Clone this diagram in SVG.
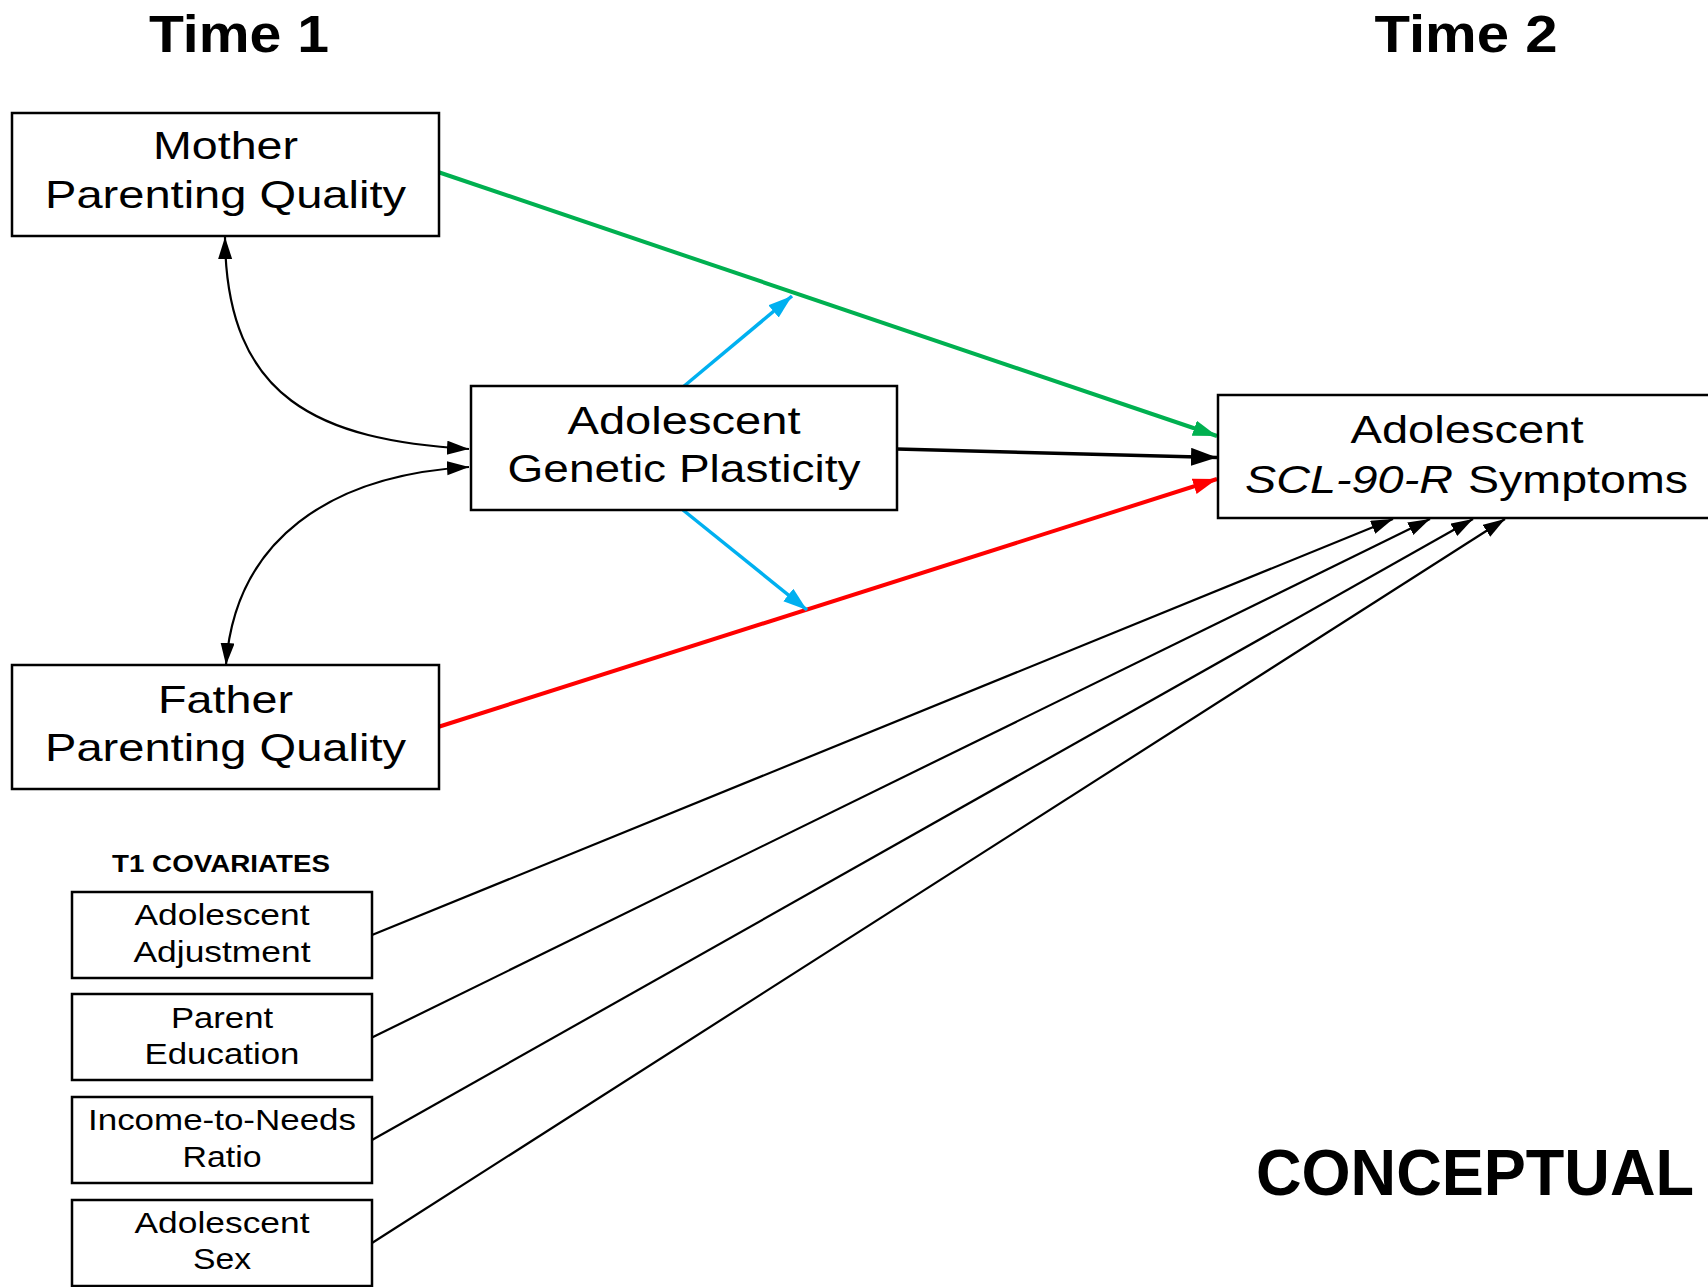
<svg xmlns="http://www.w3.org/2000/svg" width="1708" height="1287" viewBox="0 0 1708 1287">
<style>
  .box { fill: #ffffff; stroke: #000000; stroke-width: 2.5; }
  .t { font-family: "Liberation Sans", Arial, sans-serif; fill: #000000; text-anchor: middle; }
  .big { font-size: 39px; }
  .small { font-size: 30px; }
  .hdr { font-weight: bold; font-size: 51px; }
  .ln { fill: none; }
</style>
<defs>
  <marker id="aK" markerUnits="userSpaceOnUse" markerWidth="24" markerHeight="16" refX="22" refY="7" orient="auto-start-reverse"><path d="M0,0 L22,7 L0,14 z" fill="#000"/></marker>
  <marker id="aG" markerUnits="userSpaceOnUse" markerWidth="26" markerHeight="18" refX="24" refY="8" orient="auto"><path d="M0,0 L24,8 L0,16 z" fill="#00b050"/></marker>
  <marker id="aR" markerUnits="userSpaceOnUse" markerWidth="26" markerHeight="18" refX="24" refY="8" orient="auto"><path d="M0,0 L24,8 L0,16 z" fill="#ff0000"/></marker>
  <marker id="aB" markerUnits="userSpaceOnUse" markerWidth="26" markerHeight="18" refX="24" refY="8" orient="auto"><path d="M0,0 L24,8 L0,16 z" fill="#00b0f0"/></marker>
  <marker id="aKb" markerUnits="userSpaceOnUse" markerWidth="28" markerHeight="20" refX="26" refY="9" orient="auto"><path d="M0,0 L26,9 L0,18 z" fill="#000"/></marker>
</defs>

<text class="t hdr" x="239" y="52" textLength="180" lengthAdjust="spacingAndGlyphs">Time 1</text>
<text class="t hdr" x="1466" y="52" textLength="183" lengthAdjust="spacingAndGlyphs">Time 2</text>

<g id="connectors">
  <path class="ln" d="M438,172 L1217,436" stroke="#00b050" stroke-width="4" marker-end="url(#aG)"/>
  <path class="ln" d="M897,449 L1217,457.5" stroke="#000" stroke-width="3.5" marker-end="url(#aKb)"/>
  <path class="ln" d="M438,727 L1217,479" stroke="#ff0000" stroke-width="4" marker-end="url(#aR)"/>
  <path class="ln" d="M683,387 L792,296" stroke="#00b0f0" stroke-width="3.5" marker-end="url(#aB)"/>
  <path class="ln" d="M683,510 L807,610" stroke="#00b0f0" stroke-width="3.5" marker-end="url(#aB)"/>
  <path class="ln" d="M225,237 C226,400 320,440 469,449" stroke="#000" stroke-width="2.2" marker-start="url(#aK)" marker-end="url(#aK)"/>
  <path class="ln" d="M469,467 C330,475 235,540 226,665" stroke="#000" stroke-width="2.2" marker-start="url(#aK)" marker-end="url(#aK)"/>
  <path class="ln" d="M372,935 L1393,519" stroke="#000" stroke-width="2.2" marker-end="url(#aK)"/>
  <path class="ln" d="M372,1037.5 L1430,519" stroke="#000" stroke-width="2.2" marker-end="url(#aK)"/>
  <path class="ln" d="M372,1140 L1473,519" stroke="#000" stroke-width="2.2" marker-end="url(#aK)"/>
  <path class="ln" d="M372,1243 L1505,519" stroke="#000" stroke-width="2.2" marker-end="url(#aK)"/>
</g>

<g id="mother">
  <rect class="box" x="12" y="113" width="427" height="123"/>
  <text class="t big" x="225.5" y="159" textLength="145" lengthAdjust="spacingAndGlyphs">Mother</text>
  <text class="t big" x="225.5" y="208" textLength="361" lengthAdjust="spacingAndGlyphs">Parenting Quality</text>
</g>

<g id="father">
  <rect class="box" x="12" y="665" width="427" height="124"/>
  <text class="t big" x="225.5" y="713" textLength="135" lengthAdjust="spacingAndGlyphs">Father</text>
  <text class="t big" x="225.5" y="761" textLength="361" lengthAdjust="spacingAndGlyphs">Parenting Quality</text>
</g>

<g id="genetic">
  <rect class="box" x="471" y="386" width="426" height="124"/>
  <text class="t big" x="684" y="434" textLength="233" lengthAdjust="spacingAndGlyphs">Adolescent</text>
  <text class="t big" x="684" y="482" textLength="353" lengthAdjust="spacingAndGlyphs">Genetic Plasticity</text>
</g>

<g id="symptoms">
  <rect class="box" x="1218" y="395" width="500" height="123"/>
  <text class="t big" x="1467" y="443" textLength="233" lengthAdjust="spacingAndGlyphs">Adolescent</text>
  <text class="t big" x="1245" y="493" style="text-anchor:start;font-style:italic" textLength="208" lengthAdjust="spacingAndGlyphs">SCL-90-R</text>
  <text class="t big" x="1468" y="493" style="text-anchor:start" textLength="220" lengthAdjust="spacingAndGlyphs">Symptoms</text>
</g>

<text class="t" x="221" y="872" style="font-weight:bold;font-size:23px" textLength="218" lengthAdjust="spacingAndGlyphs">T1 COVARIATES</text>

<g id="cov-adjustment">
  <rect class="box" x="72" y="892" width="300" height="86"/>
  <text class="t small" x="222" y="925" textLength="175" lengthAdjust="spacingAndGlyphs">Adolescent</text>
  <text class="t small" x="222" y="962" textLength="177" lengthAdjust="spacingAndGlyphs">Adjustment</text>
</g>
<g id="cov-education">
  <rect class="box" x="72" y="994" width="300" height="86"/>
  <text class="t small" x="222" y="1028" textLength="102" lengthAdjust="spacingAndGlyphs">Parent</text>
  <text class="t small" x="222" y="1064" textLength="155" lengthAdjust="spacingAndGlyphs">Education</text>
</g>
<g id="cov-income">
  <rect class="box" x="72" y="1097" width="300" height="86"/>
  <text class="t small" x="222" y="1130" textLength="268" lengthAdjust="spacingAndGlyphs">Income-to-Needs</text>
  <text class="t small" x="222" y="1167" textLength="79" lengthAdjust="spacingAndGlyphs">Ratio</text>
</g>
<g id="cov-sex">
  <rect class="box" x="72" y="1200" width="300" height="86"/>
  <text class="t small" x="222" y="1233" textLength="175" lengthAdjust="spacingAndGlyphs">Adolescent</text>
  <text class="t small" x="222" y="1269" textLength="58" lengthAdjust="spacingAndGlyphs">Sex</text>
</g>

<text class="t" x="1256" y="1195" style="text-anchor:start;font-weight:bold;font-size:65px" textLength="438" lengthAdjust="spacingAndGlyphs">CONCEPTUAL</text>
</svg>
